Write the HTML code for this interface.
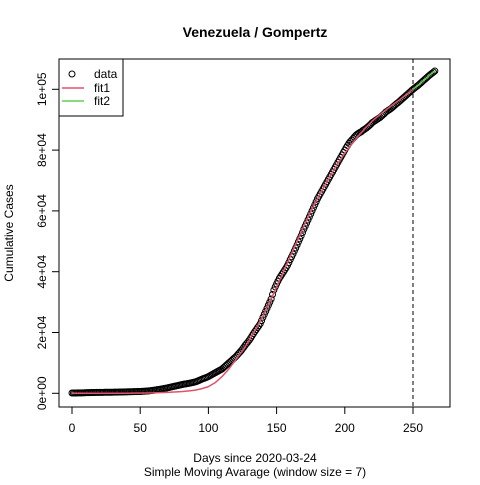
<!DOCTYPE html>
<html><head><meta charset="utf-8"><style>
body{margin:0;background:#fff}
svg{font-family:"Liberation Sans",Arial,sans-serif}
</style></head><body>
<svg width="480" height="480" viewBox="0 0 480 480">
<text x="255" y="37" text-anchor="middle" font-weight="bold" font-size="14">Venezuela / Gompertz</text>
<rect x="59" y="59" width="391" height="348" fill="none" stroke="#000"/>
<g id="xaxis"></g>
<g id="yaxis"></g>
<text x="255" y="462" text-anchor="middle" font-size="12">Days since 2020-03-24</text>
<text x="255" y="476" text-anchor="middle" font-size="12">Simple Moving Avarage (window size = 7)</text>
<text transform="translate(13,233) rotate(-90)" text-anchor="middle" font-size="12">Cumulative Cases</text>
<line x1="413" y1="59" x2="413" y2="407" stroke="#000" stroke-dasharray="4,3"/>
<g id="marks"></g>
<g>
<rect x="59" y="59" width="64" height="57" fill="#fff" stroke="#000"/>
<circle cx="72" cy="74" r="3" fill="none" stroke="#000"/>
<text x="94" y="78" font-size="12">data</text>
<line x1="62" y1="88" x2="84" y2="88" stroke="#DF536B" stroke-width="1.5"/>
<text x="94" y="92" font-size="12">fit1</text>
<line x1="62" y1="101" x2="84" y2="101" stroke="#61D04F" stroke-width="1.5"/>
<text x="94" y="105" font-size="12">fit2</text>
</g>
</svg>
<script>
const dataStart=0, dataStep=1;
const dataValues=[0.1,0.1,0.1,0.11,0.12,0.13,0.14,0.15,0.16,0.18,0.2,0.21,0.22,0.23,0.25,0.26,0.27,0.28,0.3,0.3,0.31,0.31,0.32,0.32,0.33,0.33,0.34,0.34,0.35,0.35,0.36,0.37,0.38,0.39,0.4,0.41,0.42,0.43,0.45,0.46,0.48,0.49,0.5,0.51,0.53,0.54,0.56,0.57,0.58,0.59,
0.6,0.63,0.66,0.69,0.72,0.76,0.8,0.85,0.9,0.95,1.0,1.07,1.15,1.22,1.3,1.37,1.45,1.52,1.6,1.7,1.8,1.9,2.0,2.1,2.2,2.3,2.4,2.5,2.6,2.7,2.8,2.9,3.0,3.07,3.15,3.22,3.3,3.4,3.5,3.6,3.7,3.85,4.0,4.2,4.4,4.6,4.8,4.95,5.1,5.3,
5.5,5.75,6.0,6.25,6.5,6.75,7.0,7.25,7.5,7.75,8.0,8.4,8.8,9.2,9.6,10.0,10.4,10.8,11.2,11.6,12.0,12.5,13.0,13.5,14.0,14.6,15.2,15.8,16.4,16.9,17.5,18.2,18.9,19.6,20.3,20.9,21.6,22.2,22.9,23.9,25,26,27,28,29,30,31,32.5,34,35,
36,36.9,37.8,38.5,39.2,39.9,40.6,41.3,42.1,43,44,44.9,45.8,46.8,47.8,48.8,49.8,50.8,51.8,52.9,54,55,56,57,58,59,60,61,62,63,64,64.8,65.6,66.4,67.2,68,68.8,69.6,70.4,71.2,72,72.8,73.6,74.4,75.2,76,76.8,77.6,78.4,79.2,
80,80.8,81.5,82.2,82.8,83.3,83.8,84.3,84.8,85.2,85.5,85.8,86,86.4,86.7,87,87.3,87.7,88.1,88.5,89,89.3,89.6,89.9,90.2,90.5,90.8,91.2,91.6,92,92.5,92.8,93.1,93.4,93.7,94.1,94.5,94.9,95.3,95.6,96,96.4,96.8,97.2,97.6,98,98.4,98.8,99.2,99.6,
100,100.35,100.7,101.05,101.4,101.8,102.2,102.6,103,103.4,103.8,104.2,104.6,104.95,105.3,105.65,106];
const fit1Start=0, fit1Step=5;
const fit1Values=[0,0,0,0,0,0.01,0.01,0.02,0.03,0.05,0.07,0.1,0.15,0.22,0.3,0.42,0.55,0.75,1.0,1.5,2.2,3.5,5.5,8,11,14,17.5,21.3,25.5,30,35,40,45,50,55,59.8,64,68.2,72,75.7,79,82,84.7,87.2,89.5,91.4,93.2,94.9,96.5,98.2,100];
const fit2Start=250, fit2Step=2;
const fit2Values=[100,100.7,101.4,102.2,103,103.8,104.6,105.3,106];
const xTicks=[0,50,100,150,200,250];
const yTicks=[0,20,40,60,80,100];
const yTickLabels=["0e+00","2e+04","4e+04","6e+04","8e+04","1e+05"];

const NS="http://www.w3.org/2000/svg";
const X=d=>72+d*1.364;
const Y=v=>393.3-v*3.04; // v in thousands
function mk(t,a){const e=document.createElementNS(NS,t);for(const k in a)e.setAttribute(k,a[k]);return e;}
const xa=document.getElementById('xaxis');
xa.appendChild(mk('line',{x1:X(0),x2:X(250),y1:407,y2:407,stroke:'#000'}));
xTicks.forEach(t=>{
  const l=mk('line',{x1:X(t),x2:X(t),y1:407,y2:414,stroke:'#000'});
  
  
  xa.appendChild(l);
  const tx=mk('text',{x:X(t),y:432,'text-anchor':'middle','font-size':12});
  
  
  tx.textContent=t;xa.appendChild(tx);
});
const ya=document.getElementById('yaxis');
ya.appendChild(mk('line',{x1:59,x2:59,y1:Y(0),y2:Y(100),stroke:'#000'}));
yTicks.forEach((t,i)=>{
  const l=mk('line',{x1:52,x2:59,y1:Y(t),y2:Y(t),stroke:'#000'});
  
  
  ya.appendChild(l);
  const tx=mk('text',{transform:`translate(46,${Y(t)}) rotate(-90)`,'text-anchor':'middle','font-size':12});
  
  
  tx.textContent=yTickLabels[i];ya.appendChild(tx);
});
const g=document.getElementById('marks');
dataValues.forEach((v,i)=>{
  const c=mk('circle',{cx:X(dataStart+i*dataStep),cy:Y(v),r:3,fill:'none',stroke:'#000','stroke-width':1});
  
  
  g.appendChild(c);
});
function line(vals,start,step,color,name){
  const p=mk('polyline',{points:vals.map((v,i)=>X(start+i*step)+','+Y(v)).join(' '),fill:'none',stroke:color,'stroke-width':1.5,'stroke-linejoin':'round'});
  
  
  g.appendChild(p);
}
line(fit1Values,fit1Start,fit1Step,'#DF536B','fit1-line');
line(fit2Values,fit2Start,fit2Step,'#61D04F','fit2-line');
</script>
</body></html>
